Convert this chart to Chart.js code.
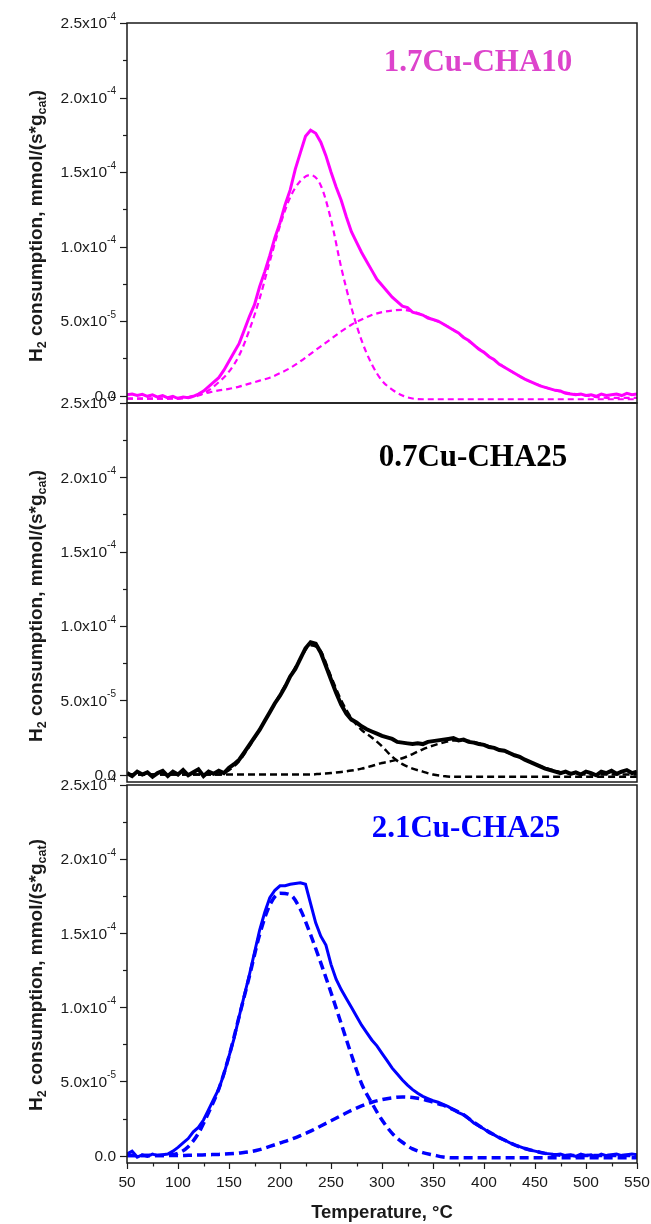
<!DOCTYPE html>
<html>
<head>
<meta charset="utf-8">
<script src="https://cdn.jsdelivr.net/npm/chart.js@4.4.1/dist/chart.umd.min.js"></script>
<style>
  body { margin: 0; background: #fff; width: 651px; height: 1224px; position: relative; overflow: hidden; }
  canvas { position: absolute; left: 0; }
</style>
</head>
<body>
<canvas id="panel1" width="651" height="420" style="top:0px"></canvas>
<canvas id="panel2" width="651" height="420" style="top:380px"></canvas>
<canvas id="panel3" width="651" height="462" style="top:762px"></canvas>
<script>
// Temperature grid of the measured signals (°C)
const temps = [50,55,60,65,70,75,80,85,90,95,
  100,105,110,115,120,125,130,135,140,145,
  150,155,160,165,170,175,180,185,190,195,
  200,205,210,215,220,225,230,235,240,245,
  250,255,260,265,270,275,280,285,290,295,
  300,305,310,315,320,325,330,335,340,345,
  350,355,360,365,370,375,380,385,390,395,
  400,405,410,415,420,425,430,435,440,445,
  450,455,460,465,470,475,480,485,490,495,
  500,505,510,515,520,525,530,535,540,545,
  550];

// Temperature grid of the fitted peaks (°C)
const fitTemps = [50,60,70,80,90,100,110,120,130,140,150,160,170,180,190,200,210,220,230,240,
  250,260,270,280,290,300,310,320,330,340,350,360,370,380,390,400,410,420,430,440,
  450,460,470,480,490,500,510,520,530,540,550];

// all values in units of 1e-5 mmol/(s*g_cat)
// 1.7Cu-CHA10
const sig17 = [0.05,0.1,0.0,0.08,-0.05,0.05,-0.1,0.0,-0.15,-0.05,
  -0.2,-0.1,-0.15,-0.05,0.1,0.3,0.6,0.9,1.2,1.7,
  2.3,2.9,3.5,4.4,5.3,6.1,7.3,8.3,9.4,10.6,
  11.6,12.8,13.8,15.2,16.3,17.4,17.8,17.6,17.0,16.1,
  15.0,14.0,13.1,12.0,11.0,10.3,9.6,9.0,8.4,7.8,
  7.4,7.0,6.6,6.3,6.0,5.9,5.6,5.5,5.4,5.2,
  5.1,5.0,4.8,4.6,4.4,4.2,3.9,3.7,3.4,3.1,
  2.9,2.6,2.4,2.1,1.9,1.7,1.5,1.3,1.1,0.95,
  0.8,0.65,0.55,0.45,0.35,0.3,0.15,0.1,0.05,0.1,
  0.0,0.05,-0.05,0.1,0.0,0.05,0.1,0.0,0.15,0.05,
  0.1];
const fitA17 = [-0.2,-0.2,-0.2,-0.2,-0.2,-0.2,-0.15,0.0,0.35,0.9,1.6,2.7,4.4,6.5,9.0,11.4,13.3,14.4,14.8,14.1,
  11.8,8.6,5.9,3.7,2.1,1.0,0.4,0.0,-0.2,-0.25,-0.25,-0.25,-0.25,-0.25,-0.25,-0.25,-0.25,-0.25,-0.25,-0.25,
  -0.25,-0.25,-0.25,-0.25,-0.25,-0.25,-0.25,-0.25,-0.25,-0.25,-0.25];
const fitB17 = [-0.2,-0.2,-0.2,-0.2,-0.2,-0.15,-0.1,0.05,0.2,0.35,0.45,0.6,0.8,1.0,1.2,1.5,1.85,2.3,2.8,3.3,
  3.8,4.3,4.75,5.1,5.4,5.6,5.7,5.75,5.65,5.4,5.1,4.8,4.4,3.9,3.4,2.9,2.4,1.9,1.5,1.1,
  0.8,0.55,0.35,0.2,0.1,0.0,-0.1,-0.15,-0.15,-0.15,-0.15];

// 0.7Cu-CHA25
const sig07 = [0.1,-0.1,0.2,0.0,0.15,-0.15,0.1,0.25,-0.1,0.2,
  0.0,0.3,-0.05,0.15,0.35,-0.1,0.2,0.05,0.25,0.1,
  0.45,0.7,1.0,1.5,2.0,2.5,3.0,3.6,4.2,4.8,
  5.3,5.9,6.6,7.1,7.8,8.5,8.9,8.8,8.2,7.3,
  6.4,5.5,4.7,4.1,3.7,3.5,3.25,3.05,2.9,2.75,
  2.6,2.5,2.4,2.2,2.15,2.1,2.05,2.1,2.05,2.2,
  2.25,2.3,2.35,2.4,2.45,2.3,2.35,2.2,2.15,2.05,
  2.0,1.85,1.8,1.65,1.6,1.45,1.3,1.2,1.0,0.85,
  0.7,0.55,0.4,0.3,0.2,0.1,0.2,0.05,0.15,0.0,
  0.2,0.1,-0.05,0.2,0.1,0.25,0.05,0.2,0.3,0.1,
  0.2];
const fitA07 = [0,0,0,0,0,0,0,0,0,0,0.3,0.9,1.9,3.0,4.2,5.4,6.6,7.8,8.7,8.3,
  6.6,5.0,3.8,3.0,2.5,1.9,1.2,0.7,0.4,0.2,0.0,-0.1,-0.15,-0.15,-0.15,-0.15,-0.15,-0.15,-0.15,-0.15,
  -0.15,-0.15,-0.15,-0.15,-0.15,-0.15,-0.15,-0.15,-0.15,-0.15,-0.15];
const fitB07 = [0,0,0,0,0,0,0,0,0,0,0,0,0,0,0,0,0,0,0,0.06,
  0.1,0.18,0.27,0.4,0.58,0.78,0.92,1.1,1.38,1.7,1.95,2.15,2.3,2.3,2.2,2.0,1.8,1.55,1.3,1.0,
  0.7,0.45,0.25,0.1,0.05,0,0,0,0,0,0];

// 2.1Cu-CHA25
const sig21 = [0.1,0.3,-0.1,0.05,-0.05,0.1,0.0,0.05,0.1,0.3,
  0.55,0.85,1.15,1.6,1.9,2.4,3.1,3.8,4.5,5.5,
  6.7,7.9,9.4,10.8,12.2,13.7,15.2,16.4,17.4,17.9,
  18.2,18.2,18.3,18.35,18.4,18.3,17.0,15.7,14.8,14.2,
  12.9,11.9,11.2,10.6,10.0,9.4,8.8,8.3,7.8,7.4,
  6.9,6.4,5.9,5.5,5.1,4.75,4.45,4.2,4.0,3.85,
  3.7,3.6,3.45,3.3,3.1,2.9,2.75,2.5,2.2,2.0,
  1.8,1.55,1.4,1.2,1.05,0.88,0.72,0.6,0.48,0.38,
  0.3,0.22,0.15,0.1,0.05,0.1,0.0,0.05,-0.05,0.1,
  0.0,0.05,-0.1,0.1,0.0,0.05,0.1,0.0,0.05,0.1,
  0.05];
const fitA21 = [0,0,0,0,0.02,0.15,0.6,1.5,2.9,4.5,6.7,9.4,12.1,14.9,16.9,17.7,17.6,16.6,14.9,13.0,
  11.0,8.9,6.8,4.85,3.55,2.4,1.5,0.9,0.45,0.2,0.05,-0.1,-0.15,-0.15,-0.15,-0.15,-0.15,-0.15,-0.15,-0.15,
  -0.15,-0.15,-0.15,-0.15,-0.15,-0.15,-0.15,-0.15,-0.15,-0.15,-0.15];
const fitB21 = [0,0,0,0,0,0,0.02,0.04,0.06,0.08,0.12,0.18,0.25,0.4,0.62,0.85,1.08,1.35,1.65,2.0,
  2.35,2.7,3.05,3.35,3.6,3.78,3.9,3.96,3.92,3.8,3.6,3.4,3.1,2.75,2.25,1.8,1.4,1.05,0.72,0.48,
  0.3,0.15,0.05,0,0,0,0,0,0,0,0];

// axis ticks
const yTicksAll = [0,2.5,5,7.5,10,12.5,15,17.5,20,22.5,25];
const yTickValues = [0,5,10,15,20,25];
const yTickText = ['0.0','5.0x10','1.0x10','1.5x10','2.0x10','2.5x10'];
const yTickExp = ['','-5','-4','-4','-4','-4'];
const xTicksAll = [50,75,100,125,150,175,200,225,250,275,300,325,350,375,400,425,450,475,500,525,550];
const xTickValues = [50,100,150,200,250,300,350,400,450,500,550];

const sansFont = '"Liberation Sans", Arial, sans-serif';
const serifFont = '"Liberation Serif", "Times New Roman", serif';

const toPoints = (xs, ys) => ys.map((v, i) => ({ x: xs[i], y: v }));

// draws the box, ticks, tick labels, axis titles and panel label
const framePlugin = {
  id: 'frame',
  afterDatasetsDraw(chart, args, o) {
    const ctx = chart.ctx;
    const a = chart.chartArea;
    const xs = chart.scales.x;
    const ys = chart.scales.y;
    ctx.save();
    ctx.strokeStyle = '#1a1a1a';
    ctx.fillStyle = '#1a1a1a';
    ctx.lineWidth = 1.5;
    ctx.strokeRect(a.left, a.top, a.right - a.left, a.bottom - a.top);

    // y ticks
    ctx.lineWidth = 1.2;
    yTicksAll.forEach(v => {
      const y = Math.round(ys.getPixelForValue(v)) + 0.5;
      const len = yTickValues.includes(v) ? 7 : 4;
      ctx.beginPath();
      ctx.moveTo(a.left - len, y);
      ctx.lineTo(a.left, y);
      ctx.stroke();
    });

    // y tick labels with superscript exponent
    const xEnd = a.left - 11;
    ctx.textBaseline = 'middle';
    yTickValues.forEach((v, i) => {
      const y = ys.getPixelForValue(v);
      ctx.font = '10px ' + sansFont;
      const ew = ctx.measureText(yTickExp[i]).width;
      ctx.textAlign = 'left';
      ctx.fillText(yTickExp[i], xEnd - ew, y - 6);
      ctx.font = '15.5px ' + sansFont;
      ctx.textAlign = 'right';
      ctx.fillText(yTickText[i], xEnd - ew, y + 1);
    });

    // y title, rotated, with subscripts
    const parts = [['H', false], ['2', true], [' consumption, mmol/(s*g', false], ['cat', true], [')', false]];
    const mainF = 'bold 19px ' + sansFont;
    const subF = 'bold 12.5px ' + sansFont;
    let total = 0;
    parts.forEach(p => { ctx.font = p[1] ? subF : mainF; total += ctx.measureText(p[0]).width; });
    ctx.save();
    ctx.translate(42, o.titleY);
    ctx.rotate(-Math.PI / 2);
    ctx.textAlign = 'left';
    ctx.textBaseline = 'alphabetic';
    let px = -total / 2;
    parts.forEach(p => {
      ctx.font = p[1] ? subF : mainF;
      ctx.fillText(p[0], px, p[1] ? 4 : 0);
      px += ctx.measureText(p[0]).width;
    });
    ctx.restore();

    // panel label
    ctx.font = 'bold 31px ' + serifFont;
    ctx.fillStyle = o.labelColor;
    ctx.textAlign = 'center';
    ctx.textBaseline = 'alphabetic';
    ctx.fillText(o.label, o.labelX, o.labelY);

    // x axis on the bottom panel
    if (o.xAxis) {
      ctx.fillStyle = '#1a1a1a';
      xTicksAll.forEach(v => {
        const x = Math.round(xs.getPixelForValue(v)) + 0.5;
        const len = xTickValues.includes(v) ? 6 : 3.5;
        ctx.beginPath();
        ctx.moveTo(x, a.bottom);
        ctx.lineTo(x, a.bottom + len);
        ctx.stroke();
      });
      ctx.font = '15.5px ' + sansFont;
      ctx.textAlign = 'center';
      ctx.textBaseline = 'middle';
      xTickValues.forEach(v => ctx.fillText(String(v), xs.getPixelForValue(v), a.bottom + 20));
      ctx.font = 'bold 18.5px ' + sansFont;
      ctx.fillText('Temperature, °C', (a.left + a.right) / 2, a.bottom + 50);
    }
    ctx.restore();
  }
};

const makePanel = (id, color, sig, fitA, fitB, style) => {
  const dashed = data => ({
    data: toPoints(fitTemps, data),
    borderColor: color,
    borderWidth: style.dashWidth,
    borderDash: style.dash,
    cubicInterpolationMode: 'monotone',
    pointRadius: 0,
    fill: false
  });
  new Chart(document.getElementById(id), {
    type: 'line',
    data: {
      datasets: [
        {
          data: toPoints(temps, sig),
          borderColor: color,
          borderWidth: style.lineWidth,
          tension: 0,
          pointRadius: 0,
          fill: false
        },
        dashed(fitA),
        dashed(fitB)
      ]
    },
    options: {
      responsive: false,
      animation: false,
      events: [],
      layout: { padding: { left: 127, right: 14, top: 23, bottom: style.bottomPad } },
      plugins: {
        legend: { display: false },
        tooltip: { enabled: false },
        frame: style.frame
      },
      scales: {
        x: { type: 'linear', min: 50, max: 550, display: false },
        y: { type: 'linear', min: -0.5, max: 25, display: false }
      }
    },
    plugins: [framePlugin]
  });
};

document.addEventListener('DOMContentLoaded', function() {
  makePanel('panel1', '#ff00ff', sig17, fitA17, fitB17, {
    lineWidth: 3, dashWidth: 2.2, dash: [6, 4], bottomPad: 17,
    frame: { label: '1.7Cu-CHA10', labelColor: '#dd44cc', labelX: 478, labelY: 71, titleY: 226, xAxis: false }
  });
  makePanel('panel2', '#000000', sig07, fitA07, fitB07, {
    lineWidth: 4, dashWidth: 2.5, dash: [7, 4], bottomPad: 18,
    frame: { label: '0.7Cu-CHA25', labelColor: '#000000', labelX: 473, labelY: 86, titleY: 226, xAxis: false }
  });
  makePanel('panel3', '#0000ff', sig21, fitA21, fitB21, {
    lineWidth: 3, dashWidth: 3.5, dash: [9, 5], bottomPad: 61,
    frame: { label: '2.1Cu-CHA25', labelColor: '#0000ff', labelX: 466, labelY: 75, titleY: 213, xAxis: true }
  });
});
</script>
</body>
</html>
